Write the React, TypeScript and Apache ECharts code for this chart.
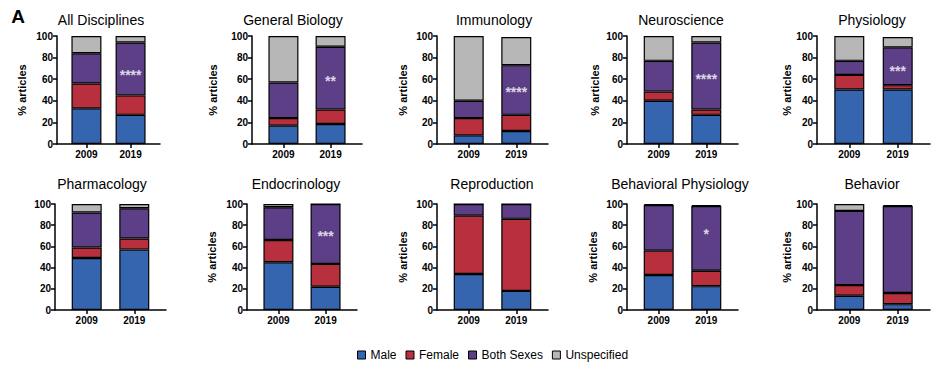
import React, { useEffect, useRef } from "react";
import * as echarts from "echarts";

const years = ["2009", "2019"];
const seriesNames = ["Male", "Female", "Both Sexes", "Unspecified"];
const panelTitles = [
  "All Disciplines", "General Biology", "Immunology", "Neuroscience", "Physiology",
  "Pharmacology", "Endocrinology", "Reproduction", "Behavioral Physiology", "Behavior",
];
// each entry: [2009, 2019] in % articles
const male = [[33, 27], [17, 18.5], [8, 12], [40, 27], [50.5, 50.5], [49, 57], [45, 22], [34, 18], [33, 22.5], [13.5, 5.5]];
const female = [[23, 18], [7, 13.5], [16, 15], [8.5, 5], [13.5, 4], [10, 10.5], [21, 21.5], [55, 68], [23, 14.5], [10, 10.5]];
const bothSexes = [[28, 49], [33, 58], [16, 46], [28.5, 62], [13, 35], [33, 28.5], [31, 56.5], [11, 14], [43, 61], [70, 82]];
const unspecified = [[16, 6], [43, 10], [60, 26], [23, 6], [23, 9.5], [8, 4], [3, 0], [0, 0], [1, 1], [6.5, 1]];
const significance = ["****", "**", "****", "****", "***", "", "***", "", "*", ""];
const significanceY = [67, 61, 50.5, 63, 70, 0, 72.5, 0, 74.5, 0];
const showYName = [true, true, true, true, true, false, true, true, true, true];

const colors = ["#3465ae", "#b82f3d", "#5c3f87", "#b7b7b7"];
const FONT = "'Liberation Sans', Arial, Helvetica, sans-serif";

// x slots on the axis (boundaryGap false): the two years sit at slots 2 and 5 of 8
const SLOT_COUNT = 8;
const YEAR_SLOTS = [2, 5];

// layout (pixels)
const layout = [
  { left: 57, width: 103, row: 0, titleX: 101, yNameX: 22 },
  { left: 252, width: 110, row: 0, titleX: 293, yNameX: 213 },
  { left: 437, width: 111, row: 0, titleX: 494, yNameX: 403 },
  { left: 627, width: 111, row: 0, titleX: 681, yNameX: 595 },
  { left: 817, width: 113, row: 0, titleX: 872, yNameX: 787 },
  { left: 55, width: 111, row: 1, titleX: 102, yNameX: 22 },
  { left: 247, width: 110, row: 1, titleX: 296, yNameX: 212 },
  { left: 437, width: 111, row: 1, titleX: 492, yNameX: 403 },
  { left: 627, width: 111, row: 1, titleX: 680, yNameX: 593 },
  { left: 817, width: 113, row: 1, titleX: 872, yNameX: 787 },
];
const rows = [
  { top: 36, height: 108, titleY: 19.5, yNameY: 90 },
  { top: 204, height: 106, titleY: 184, yNameY: 257 },
];

export default function App() {
  const ref = useRef<HTMLDivElement>(null);
  useEffect(() => {
    if (!ref.current) return;
    const chart = echarts.init(ref.current, null, { renderer: "svg" });
    const seriesData = [male, female, bothSexes, unspecified];
    const axisLineStyle = { color: "#000", width: 1.5 };
    const slotCats: string[] = [];
    for (let s = 0; s < SLOT_COUNT; s++) {
      const yi = YEAR_SLOTS.indexOf(s);
      slotCats.push(yi >= 0 ? years[yi] : "slot" + s);
    }
    const isYearSlot = (idx: number) => YEAR_SLOTS.indexOf(idx) >= 0;
    const toSlots = (vals: (number | null)[]) => {
      const out: any[] = new Array(SLOT_COUNT).fill("-");
      YEAR_SLOTS.forEach((s, j) => {
        if (vals[j] !== null && vals[j] !== undefined) out[s] = vals[j];
      });
      return out;
    };
    const grid = layout.map((l) => ({
      left: l.left,
      width: l.width,
      top: rows[l.row].top,
      height: rows[l.row].height,
    }));
    const xAxis = layout.map((_, i) => ({
      type: "category",
      gridIndex: i,
      data: slotCats,
      boundaryGap: false,
      axisLine: { show: true, onZero: false, lineStyle: axisLineStyle },
      axisTick: { show: true, interval: (idx: number) => isYearSlot(idx), length: 4, lineStyle: axisLineStyle },
      axisLabel: {
        interval: (idx: number) => isYearSlot(idx),
        fontWeight: "bold",
        fontSize: 10,
        color: "#000",
        margin: 5,
        fontFamily: FONT,
      },
      splitLine: { show: false },
    }));
    const yAxis = layout.map((_, i) => ({
      type: "value",
      gridIndex: i,
      min: 0,
      max: 100,
      interval: 20,
      axisLine: { show: true, onZero: false, lineStyle: axisLineStyle },
      axisTick: { show: true, length: 4, lineStyle: axisLineStyle },
      axisLabel: { fontWeight: "bold", fontSize: 10, color: "#000", margin: 4, fontFamily: FONT },
      splitLine: { show: false },
    }));
    const series: any[] = [];
    layout.forEach((_, i) => {
      seriesData.forEach((arr, k) => {
        series.push({
          type: "bar",
          name: seriesNames[k],
          xAxisIndex: i,
          yAxisIndex: i,
          stack: "s" + i,
          barWidth: 30,
          data: toSlots(arr[i]),
          itemStyle: { color: colors[k], borderColor: "#000", borderWidth: 1.2 },
        });
      });
      if (significance[i]) {
        series.push({
          type: "scatter",
          name: "sig" + i,
          xAxisIndex: i,
          yAxisIndex: i,
          symbolSize: 1,
          itemStyle: { color: "rgba(0,0,0,0)" },
          silent: true,
          z: 10,
          data: toSlots([null, significanceY[i]]),
          label: {
            show: true,
            position: "inside",
            formatter: () => significance[i],
            color: "#fff",
            fontSize: 14,
            fontWeight: "bold",
            fontFamily: FONT,
            offset: [0, 3],
          },
        });
      }
    });
    const graphic: any[] = [
      {
        type: "text",
        x: 18,
        y: 16,
        style: { text: "A", font: `bold 19px ${FONT}`, fill: "#000", textAlign: "center", textVerticalAlign: "middle" },
      },
    ];
    layout.forEach((l, i) => {
      const r = rows[l.row];
      graphic.push({
        type: "text",
        x: l.titleX,
        y: r.titleY,
        style: { text: panelTitles[i], font: `14px ${FONT}`, fill: "#000", textAlign: "center", textVerticalAlign: "middle" },
      });
      if (showYName[i]) {
        graphic.push({
          type: "text",
          x: l.yNameX,
          y: r.yNameY,
          rotation: Math.PI / 2,
          style: { text: "% articles", font: `bold 11px ${FONT}`, fill: "#000", textAlign: "center", textVerticalAlign: "middle" },
        });
      }
    });
    chart.setOption({
      animation: false,
      textStyle: { fontFamily: FONT },
      grid,
      xAxis,
      yAxis,
      series,
      graphic,
      legend: {
        data: seriesNames,
        left: 352,
        top: 344,
        itemWidth: 8,
        itemHeight: 8,
        itemGap: 9,
        icon: "rect",
        textStyle: { fontSize: 12, color: "#000", fontFamily: FONT },
        itemStyle: { borderColor: "#000", borderWidth: 1 },
        selectedMode: false,
      },
    });
    return () => chart.dispose();
  }, []);
  return <div ref={ref} style={{ position: "absolute", left: 0, top: 0, width: 940, height: 371 }} />;
}
